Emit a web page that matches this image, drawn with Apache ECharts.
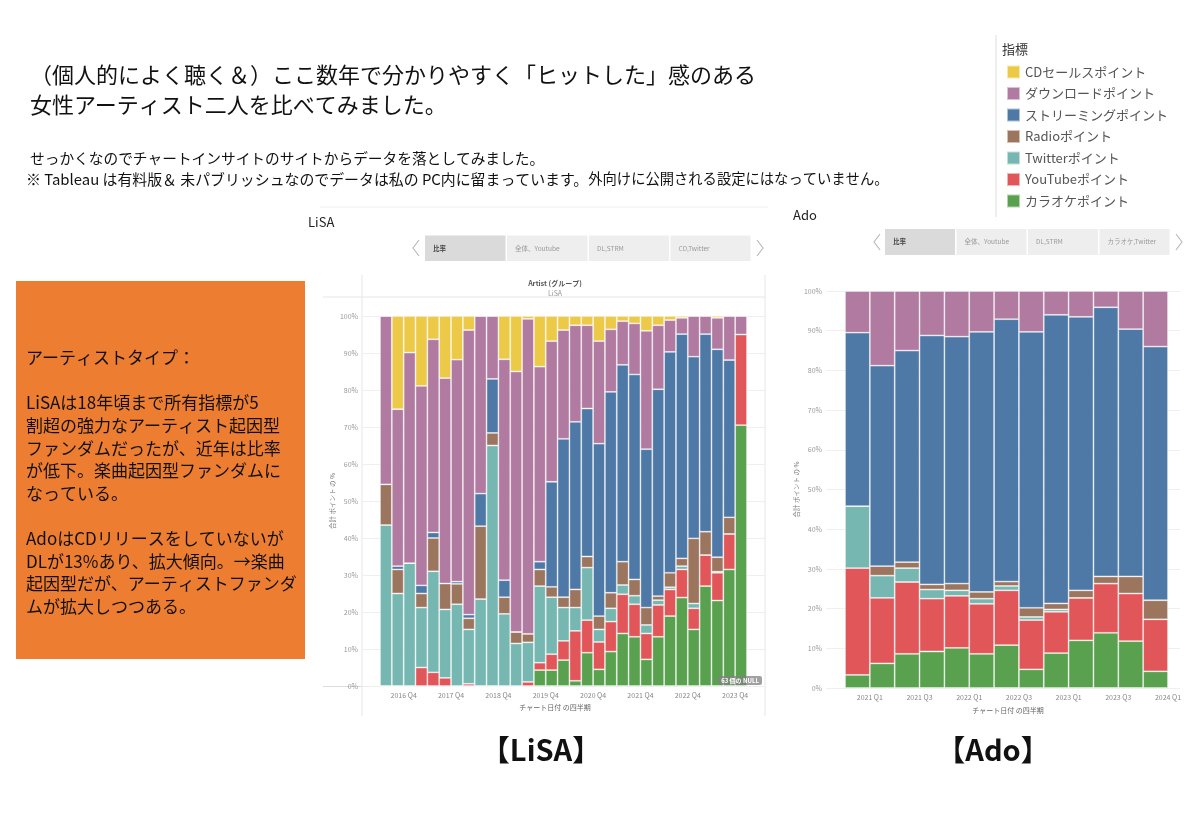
<!DOCTYPE html>
<html>
<head>
<meta charset="utf-8">
<title>LiSA / Ado</title>
<script src="https://cdn.jsdelivr.net/npm/echarts@6/dist/echarts.min.js"></script>
<style>
  html, body { margin: 0; padding: 0; background: #fff; }
  #main { width: 1200px; height: 831px; }
</style>
</head>
<body>
<div id="main"></div>
<script>
// 指標 (stack order, bottom -> top)
var metricNames = ['カラオケポイント', 'YouTubeポイント', 'Twitterポイント', 'Radioポイント',
  'ストリーミングポイント', 'ダウンロードポイント', 'CDセールスポイント'];
var metricColors = ['#59A14F', '#E15759', '#76B7B2', '#9C755F', '#4E79A7', '#B07AA1', '#EDC948'];
var legendOrder = ['CDセールスポイント', 'ダウンロードポイント', 'ストリーミングポイント', 'Radioポイント',
  'Twitterポイント', 'YouTubeポイント', 'カラオケポイント'];

// LiSA (%)
var lisaQuarters = ['2016 Q2', '2016 Q3', '2016 Q4', '2017 Q1', '2017 Q2', '2017 Q3', '2017 Q4', '2018 Q1',
  '2018 Q2', '2018 Q3', '2018 Q4', '2019 Q1', '2019 Q2', '2019 Q3', '2019 Q4', '2020 Q1', '2020 Q2',
  '2020 Q3', '2020 Q4', '2021 Q1', '2021 Q2', '2021 Q3', '2021 Q4', '2022 Q1', '2022 Q2', '2022 Q3',
  '2022 Q4', '2023 Q1', '2023 Q2', '2023 Q3', '2023 Q4'];
var lisaKaraoke = [0, 0, 0, 0, 0, 0, 0, 0, 0, 0, 0, 0, 0, 4.3, 4.3, 7, 1.4, 9, 4.5, 9.3, 14.2, 13.3, 7.2, 13.3, 18.9, 23.9, 15.3, 27, 23.1, 31.5, 70.5];
var lisaYoutube = [0, 0, 0, 5, 3.7, 2.2, 0, 0.6, 0, 0, 0, 0, 1.1, 2, 4.3, 5.2, 13.5, 8.8, 7.4, 8.1, 10.6, 8.8, 7, 8.6, 7.2, 7.6, 5.7, 8.4, 7.5, 9.6, 24.5];
var lisaTwitter = [43.5, 25, 33.2, 16.2, 27.3, 18.5, 22.1, 14.7, 23.5, 65, 19.5, 11.5, 10.7, 20.7, 15.4, 9, 6.3, 14.2, 3.4, 3.6, 2.5, 2.3, 2.3, 1.3, 0.6, 0.9, 1.3, 0, 0.3, 0, 0];
var lisaRadio = [11, 6.5, 0, 3.8, 9, 7, 5.5, 3, 19.7, 3.4, 4.5, 3.1, 2.3, 4.5, 2.8, 2.8, 4.9, 3, 3.6, 4.2, 6.3, 4.4, 4.7, 1.1, 3.9, 2.1, 17.6, 6.3, 3.9, 4.5, 0];
var lisaStreaming = [0, 0.9, 0, 2.2, 1.5, 0, 0.6, 1, 8.8, 14.6, 4.6, 0, 0, 2.1, 28.4, 42.8, 45.3, 40, 46.6, 54.3, 53.2, 55.4, 42.8, 55.9, 59.7, 60.6, 49.1, 53.4, 56.2, 42.5, 0];
var lisaDownload = [45.5, 42.4, 56.9, 53.9, 52.2, 55.5, 60, 76.9, 48, 17, 59.7, 70.4, 85.1, 52.7, 38, 29.4, 26.1, 22.5, 27.7, 16.9, 11.8, 13.8, 32, 17.3, 8.6, 4.4, 11, 4.9, 8.5, 11.9, 5];
var lisaCd = [0, 25.2, 9.9, 18.9, 6.3, 16.8, 11.8, 3.8, 0, 0, 11.7, 15, 0.8, 13.7, 6.8, 3.8, 2.5, 2.5, 6.8, 3.6, 1.4, 2, 4, 2.5, 1.1, 0.5, 0, 0, 0.5, 0, 0];
var lisaTickAt = [2, 6, 10, 14, 18, 22, 26, 30];
var lisaTickLabels = ['2016 Q4', '2017 Q4', '2018 Q4', '2019 Q4', '2020 Q4', '2021 Q4', '2022 Q4', '2023 Q4'];

// Ado (%)
var adoQuarters = ['2020 Q4', '2021 Q1', '2021 Q2', '2021 Q3', '2021 Q4', '2022 Q1', '2022 Q2',
  '2022 Q3', '2022 Q4', '2023 Q1', '2023 Q2', '2023 Q3', '2023 Q4'];
var adoKaraoke = [3.3, 6.2, 8.6, 9.2, 10.1, 8.6, 10.8, 4.7, 8.8, 12, 13.9, 11.8, 4.2];
var adoYoutube = [26.9, 16.5, 18.1, 13.3, 13.1, 12.6, 13.8, 12.4, 10.4, 10.7, 12.4, 12, 13.1];
var adoTwitter = [15.6, 5.6, 3.5, 2.3, 1.4, 1.3, 1.1, 0.8, 0.6, 0, 0, 0, 0];
var adoRadio = [0, 2.4, 1.5, 1.3, 1.7, 1.7, 1.1, 2.3, 1.5, 1.9, 1.8, 4.3, 4.8];
var adoStreaming = [43.7, 50.5, 53.3, 62.7, 62.2, 65.5, 66.1, 69.5, 72.7, 68.9, 67.8, 62.3, 63.9];
var adoDownload = [10.5, 18.8, 15, 11.2, 11.5, 10.3, 7.1, 10.3, 6, 6.5, 4.1, 9.6, 14];
var adoTickAt = [1, 3, 5, 7, 9, 11, 13];
var adoTickLabels = ['2021 Q1', '2021 Q3', '2022 Q1', '2022 Q3', '2023 Q1', '2023 Q3', '2024 Q1'];

var FONT = '"Noto Sans CJK JP", "Noto Sans", sans-serif';

function buildSeries(stackId, xIdx, yIdx, cols) {
  return cols.map(function (vals, i) {
    return {
      name: metricNames[i],
      type: 'bar',
      stack: stackId,
      xAxisIndex: xIdx,
      yAxisIndex: yIdx,
      barCategoryGap: '0%',
      data: vals,
      itemStyle: { color: metricColors[i], borderColor: 'rgba(255,255,255,0.55)', borderWidth: 0.8 },
      emphasis: { disabled: true }
    };
  });
}

function tickFormatter(at, labels) {
  return function (v) {
    var k = at.indexOf(v);
    return k < 0 ? '' : labels[k];
  };
}

function bgYAxis(grid, gap) {
  return {
    gridIndex: grid, type: 'value', min: 0, max: 100, interval: 10,
    name: '合計 ポイント の %', nameLocation: 'middle', nameGap: gap, nameRotate: 90,
    nameTextStyle: { fontSize: 6.5, color: '#777', fontFamily: FONT },
    axisLine: { show: false }, axisTick: { show: false },
    axisLabel: { formatter: '{value}%', fontSize: 7, color: '#999', margin: 4, fontFamily: FONT },
    splitLine: { lineStyle: { color: '#efefef', width: 1 } }
  };
}

function labelXAxis(grid, count, at, labels) {
  return {
    gridIndex: grid, type: 'value', min: 0, max: count, interval: 1, position: 'bottom',
    axisLine: { show: false }, axisTick: { show: false }, splitLine: { show: false },
    axisLabel: { fontSize: 7, color: '#888', margin: 6, fontFamily: FONT, formatter: tickFormatter(at, labels) }
  };
}

function txt(x, y, text, size, color, opts) {
  opts = opts || {};
  return {
    type: 'text', silent: true, rotation: opts.rotation || 0, x: x, y: y,
    style: {
      text: text, x: 0, y: 0, fill: color,
      font: (opts.weight || 'normal') + ' ' + size + 'px ' + FONT,
      textAlign: opts.align || 'left', textVerticalAlign: 'middle',
      lineHeight: opts.lineHeight, rich: opts.rich
    }
  };
}

function line(x1, y1, x2, y2, color) {
  return { type: 'line', silent: true, shape: { x1: x1, y1: y1, x2: x2, y2: y2 }, style: { stroke: color, lineWidth: 1 } };
}

function tabs(x0, y0, h, widths, names) {
  var out = [];
  var x = x0;
  widths.forEach(function (w, i) {
    out.push({ type: 'rect', silent: true, shape: { x: x, y: y0, width: w, height: h },
      style: { fill: i === 0 ? '#dadada' : '#eeeeee' } });
    out.push(txt(x + 8, y0 + h / 2, names[i], 6.5, i === 0 ? '#444' : '#999', { weight: i === 0 ? 'bold' : 'normal' }));
    x += w + 1.5;
  });
  return out;
}

function chevron(x, y, dir) {
  return { type: 'polyline', silent: true,
    shape: { points: [[x - 3 * dir, y - 8], [x + 3 * dir, y], [x - 3 * dir, y + 8]] },
    style: { stroke: '#bbb', lineWidth: 1.2, fill: null } };
}

var graphics = [
  // header text
  txt(30, 75, '（個人的によく聴く＆）ここ数年で分かりやすく「ヒットした」感のある', 22, '#111'),
  txt(30, 105, '女性アーティスト二人を比べてみました。', 22, '#111'),
  txt(30, 158, 'せっかくなのでチャートインサイトのサイトからデータを落としてみました。', 14.7, '#111'),
  txt(26, 179, '{a|※ Tableau は有料版＆ 未パブリッシュなのでデータは私の PC内に留まっています。}{b|外向けに公開される設定にはなっていません。}', 14, '#111', {
    rich: { a: { fontSize: 14.9, fontFamily: FONT, fill: '#111' }, b: { fontSize: 14.3, fontFamily: FONT, fill: '#111' } }
  }),

  // orange note box
  { type: 'rect', silent: true, shape: { x: 16, y: 281, width: 289, height: 378 }, style: { fill: '#ED7D31' } },
  txt(26, 482, 'アーティストタイプ：\n\nLiSAは18年頃まで所有指標が5\n割超の強力なアーティスト起因型\nファンダムだったが、近年は比率\nが低下。楽曲起因型ファンダムに\nなっている。\n\nAdoはCDリリースをしていないが\nDLが13%あり、拡大傾向。→楽曲\n起因型だが、アーティストファンダ\nムが拡大しつつある。', 17, '#111', { lineHeight: 22.6 }),

  // legend frame + title
  line(996, 35, 996, 217, '#dddddd'),
  txt(1002, 49, '指標', 13, '#333'),

  // LiSA panel
  line(320, 207, 768, 207, '#f0f0f0'),
  txt(308, 222, 'LiSA', 13, '#222'),
  chevron(416, 248, -1), chevron(760, 248, 1),
  line(362, 275, 362, 716, '#e6e6e6'),
  line(765, 275, 765, 716, '#e6e6e6'),
  line(323, 297, 765, 297, '#e6e6e6'),
  line(323, 686.5, 765, 686.5, '#dcdcdc'),
  txt(555, 283, 'Artist (グループ)', 7, '#555', { align: 'center', weight: 'bold' }),
  txt(555, 293, 'LiSA', 7, '#999', { align: 'center' }),
  txt(555, 707, 'チャート日付 の四半期', 7, '#666', { align: 'center' }),
  { type: 'rect', silent: true, z: 100, shape: { x: 718, y: 676, width: 44, height: 9, r: 2 }, style: { fill: 'rgba(130,130,130,0.75)' } },
  { type: 'text', silent: true, z: 101, x: 740, y: 680.5,
    style: { text: '63 個の NULL', x: 0, y: 0, fill: '#fff', font: 'bold 6px ' + FONT, textAlign: 'center', textVerticalAlign: 'middle' } },

  // Ado panel
  txt(793, 215, 'Ado', 13, '#222'),
  chevron(877, 242, -1), chevron(1179, 242, 1),
  line(826, 688.5, 1180, 688.5, '#e0e0e0'),
  txt(1008, 710, 'チャート日付 の四半期', 7, '#666', { align: 'center' }),

  // captions
  txt(541, 750, '【LiSA】', 29, '#111', { align: 'center', weight: 'bold' }),
  txt(993, 750, '【Ado】', 29, '#111', { align: 'center', weight: 'bold' })
];
graphics = graphics
  .concat(tabs(425, 235.5, 25.5, [80.5, 80.5, 80, 80], ['比率', '全体、Youtube', 'DL,STRM', 'CD,Twitter']))
  .concat(tabs(885, 229, 26, [70, 70, 70, 70], ['比率', '全体、Youtube', 'DL,STRM', 'カラオケ,Twitter']));

var lisaCols = [lisaKaraoke, lisaYoutube, lisaTwitter, lisaRadio, lisaStreaming, lisaDownload, lisaCd];
var adoCols = [adoKaraoke, adoYoutube, adoTwitter, adoRadio, adoStreaming, adoDownload];

var chart = echarts.init(document.getElementById('main'), null, { renderer: 'canvas' });
chart.setOption({
  animation: false,
  backgroundColor: '#ffffff',
  textStyle: { fontFamily: FONT },
  color: metricColors,
  legend: {
    data: legendOrder,
    orient: 'vertical',
    left: 1006, top: 64.5,
    padding: 0,
    icon: 'rect',
    itemWidth: 13, itemHeight: 13, itemGap: 6.5,
    selectedMode: false,
    textStyle: { fontSize: 13, color: '#555', lineHeight: 13, fontFamily: FONT }
  },
  grid: [
    { left: 362, top: 316, width: 403, height: 370 },
    { left: 380, top: 316, width: 367, height: 370 },
    { left: 826, top: 291, width: 354, height: 397 },
    { left: 845, top: 291, width: 323, height: 397 }
  ],
  xAxis: [
    { gridIndex: 0, type: 'value', min: 0, max: 1, show: false },
    { gridIndex: 1, type: 'category', data: lisaQuarters, show: false },
    labelXAxis(1, lisaQuarters.length, lisaTickAt, lisaTickLabels),
    { gridIndex: 2, type: 'value', min: 0, max: 1, show: false },
    { gridIndex: 3, type: 'category', data: adoQuarters, show: false },
    labelXAxis(3, adoQuarters.length, adoTickAt, adoTickLabels)
  ],
  yAxis: [
    bgYAxis(0, 26),
    { gridIndex: 1, type: 'value', min: 0, max: 100, show: false },
    bgYAxis(2, 21),
    { gridIndex: 3, type: 'value', min: 0, max: 100, show: false }
  ],
  series: buildSeries('lisa', 1, 1, lisaCols).concat(buildSeries('ado', 4, 3, adoCols)),
  graphic: graphics
});
</script>
</body>
</html>
